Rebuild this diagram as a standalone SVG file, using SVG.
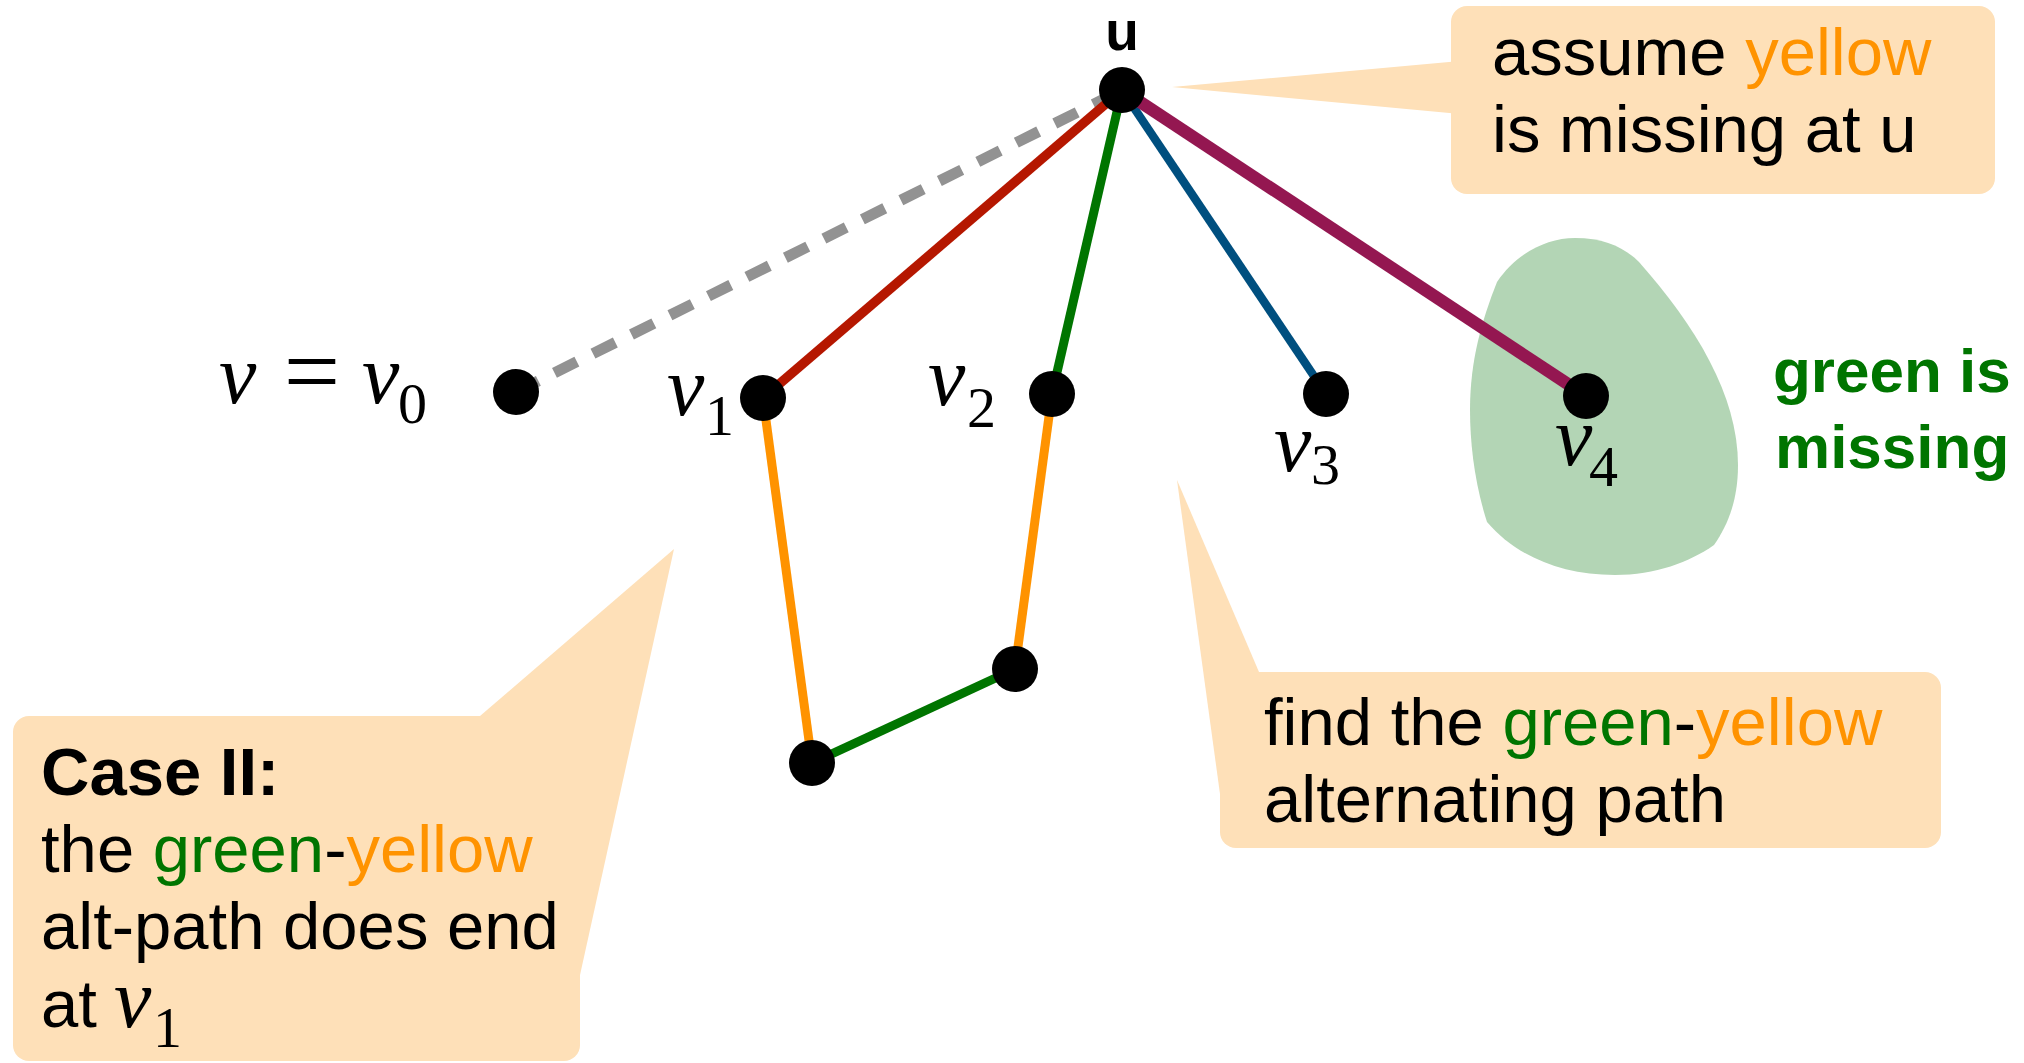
<svg xmlns="http://www.w3.org/2000/svg" width="2024" height="1063" viewBox="0 0 2024 1063">
<style>
.callout{fill:#FEE0B8;stroke:none}
.txt{font-family:"Liberation Sans",Arial,sans-serif;font-size:67px;fill:#000}
.b{font-weight:bold}
.or{fill:#FF9300}
.gr{fill:#007500}
.mi{font-family:"Liberation Serif","Times New Roman",serif;font-style:italic;font-size:84px;fill:#000}
.sub{font-family:"Liberation Serif","Times New Roman",serif;font-style:normal;font-size:58px;fill:#000}
.node{fill:#000}
.e{fill:none;stroke-linecap:butt}
</style>
<rect width="2024" height="1063" fill="#fff"/>
<g id="blob">
<path d="M1497,282 C1515,255 1545,238 1575,238 C1605,238 1625,248 1639,262 C1695,325 1738,395 1738,465 C1738,500 1728,525 1714,545 C1690,562 1655,575 1615,575 C1560,575 1515,555 1487,522 C1475,485 1470,445 1470,410 C1470,360 1482,320 1497,282 Z" fill="#B3D5B5"/>
</g>
<g id="callout-assume">
<rect class="callout" x="1451" y="6" width="544" height="188" rx="16"/>
<polygon class="callout" points="1460,61 1172,87 1460,114"/>
<text class="txt" x="1492" y="75">assume <tspan class="or">yellow</tspan></text>
<text class="txt" x="1492" y="152">is missing at u</text>
</g>
<g id="callout-find">
<rect class="callout" x="1220" y="672" width="721" height="176" rx="16"/>
<polygon class="callout" points="1177,480 1259,672 1259,794 1220,794"/>
<text class="txt" x="1264" y="745">find the <tspan class="gr">green</tspan>-<tspan class="or">yellow</tspan></text>
<text class="txt" x="1264" y="822">alternating path</text>
</g>
<g id="callout-case">
<rect class="callout" x="13" y="716" width="567" height="345" rx="16"/>
<polygon class="callout" points="480,716 674,549 580,975 480,975"/>
<text class="txt b" x="41" y="795">Case II:</text>
<text class="txt" x="41" y="872">the <tspan class="gr">green</tspan>-<tspan class="or">yellow</tspan></text>
<text class="txt" x="41" y="949">alt-path does end</text>
<text class="txt" x="41" y="1027">at <tspan class="mi" x="114">v</tspan><tspan class="sub" x="153" y="1047">1</tspan></text>
</g>
<g id="connectors">
<line class="e" x1="516" y1="392" x2="1122" y2="90" stroke="#929292" stroke-width="11" stroke-dasharray="25 18"/>
<line class="e" x1="763" y1="398" x2="1122" y2="90" stroke="#B51700" stroke-width="9.5"/>
<line class="e" x1="1052" y1="394" x2="1122" y2="90" stroke="#007500" stroke-width="9"/>
<line class="e" x1="1326" y1="394" x2="1122" y2="90" stroke="#004F7F" stroke-width="8.5"/>
<line class="e" x1="1586" y1="396" x2="1122" y2="90" stroke="#941751" stroke-width="12.5"/>
<line class="e" x1="763" y1="398" x2="812" y2="763" stroke="#FF9300" stroke-width="9"/>
<line class="e" x1="812" y1="763" x2="1015" y2="669" stroke="#007500" stroke-width="9"/>
<line class="e" x1="1015" y1="669" x2="1052" y2="394" stroke="#FF9300" stroke-width="9"/>
</g>
<g id="node-u">
<circle class="node" cx="1122" cy="90" r="23"/>
<text class="txt b" x="1122" y="50" text-anchor="middle" style="font-size:55px">u</text>
</g>
<g id="node-v0">
<circle class="node" cx="516" cy="392" r="23"/>
<text class="mi" x="219" y="403">v</text>
<text class="mi" x="312" y="405" text-anchor="middle" style="font-style:normal;font-size:100px">=</text>
<text class="mi" x="362" y="403">v</text>
<text class="sub" x="398" y="423">0</text>
</g>
<g id="node-v1">
<circle class="node" cx="763" cy="398" r="23"/>
<text class="mi" x="667" y="415">v</text>
<text class="sub" x="705" y="435">1</text>
</g>
<g id="node-v2">
<circle class="node" cx="1052" cy="394" r="23"/>
<text class="mi" x="928" y="405">v</text>
<text class="sub" x="967" y="427">2</text>
</g>
<g id="node-v3">
<circle class="node" cx="1326" cy="394" r="23"/>
<text class="mi" x="1274" y="471">v</text>
<text class="sub" x="1311" y="484">3</text>
</g>
<g id="node-v4">
<circle class="node" cx="1586" cy="396" r="23"/>
<text class="mi" x="1555" y="465">v</text>
<text class="sub" x="1589" y="486">4</text>
</g>
<g id="node-a">
<circle class="node" cx="1015" cy="669" r="23"/>
</g>
<g id="node-b">
<circle class="node" cx="812" cy="763" r="23"/>
</g>
<g id="label-green">
<text class="txt b gr" x="1773" y="392" style="font-size:62px">green is</text>
<text class="txt b gr" x="1775" y="468" style="font-size:62px">missing</text>
</g>
</svg>
